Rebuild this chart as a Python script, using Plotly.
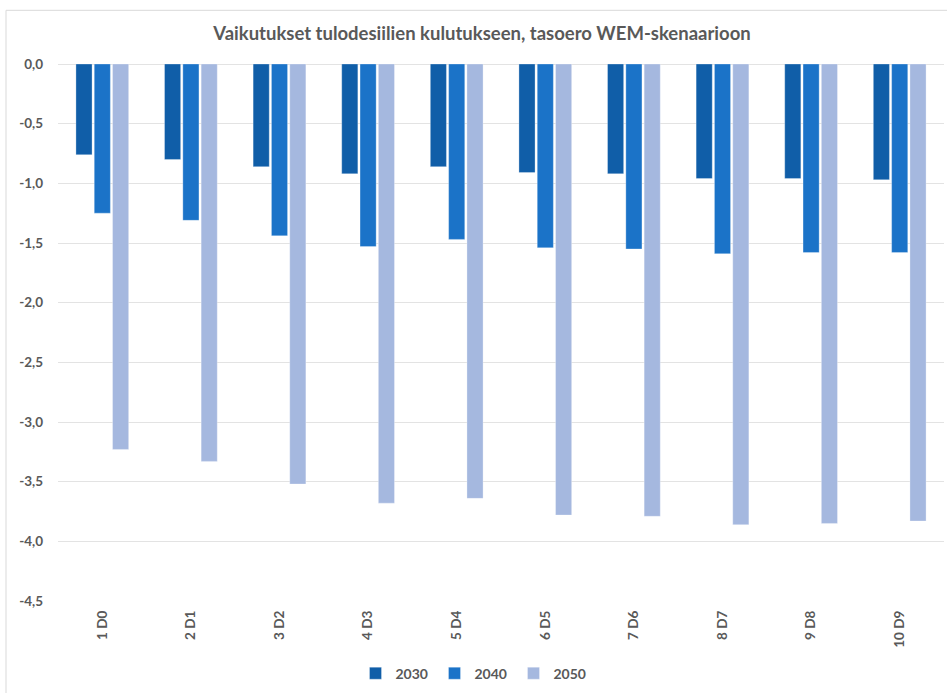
import plotly.graph_objects as go

categories = ["1 D0", "2 D1", "3 D2", "4 D3", "5 D4", "6 D5", "7 D6", "8 D7", "9 D8", "10 D9"]
v2030 = [-0.76, -0.80, -0.86, -0.92, -0.86, -0.91, -0.92, -0.96, -0.96, -0.97]
v2040 = [-1.25, -1.31, -1.44, -1.53, -1.47, -1.54, -1.55, -1.59, -1.58, -1.58]
v2050 = [-3.23, -3.33, -3.52, -3.68, -3.64, -3.78, -3.79, -3.86, -3.85, -3.83]
series_names = ["2030", "2040", "2050"]
colors = ["#105ea8", "#1b73c8", "#a5b8df"]
title = "Vaikutukset tulodesiilien kulutukseen, tasoero WEM-skenaarioon"
yticks = [0, -0.5, -1.0, -1.5, -2.0, -2.5, -3.0, -3.5, -4.0, -4.5]
yticklabels = ["0,0", "-0,5", "-1,0", "-1,5", "-2,0", "-2,5", "-3,0", "-3,5", "-4,0", "-4,5"]

FONT = "Lato"
GRAY = "#595959"

fig = go.Figure()
for name, vals, col in zip(series_names, [v2030, v2040, v2050], colors):
    fig.add_trace(go.Bar(
        x=categories, y=vals, name=name,
        marker=dict(color=col, line=dict(width=0.6, color="rgba(255,255,255,0.5)")),
    ))

W, H = 947, 693
L, R, T, B = 58, 3, 64, 89
pw = W - L - R
ph = H - T - B

def px_x(x):
    return (x - L) / pw

def px_y(y):
    return (H - B - y) / ph

fig.update_layout(
    width=W, height=H,
    margin=dict(l=L, r=R, t=T, b=B),
    paper_bgcolor="white", plot_bgcolor="white",
    barmode="group", bargap=0.38, bargroupgap=0.12,
    font=dict(family=FONT, color=GRAY, size=13),
    title=dict(text="<b>" + title + "</b>", x=px_x(482), xref="paper", xanchor="center",
               y=1 - 34 / H, yref="container", yanchor="middle",
               font=dict(size=18.5, color=GRAY, family=FONT)),
    legend=dict(orientation="h", x=px_x(474), xanchor="center", y=px_y(677), yanchor="middle",
                font=dict(size=14, color=GRAY, family=FONT, weight="bold"),
                itemwidth=30, traceorder="normal", entrywidth=34),
    xaxis=dict(tickangle=-90, showgrid=False, showline=False, ticks="",
               tickfont=dict(size=13.5, color=GRAY, family=FONT, weight="bold"),
               ticklabelstandoff=6),
    yaxis=dict(range=[-4.5, 0], tickvals=yticks, ticktext=yticklabels,
               showgrid=True, gridcolor="#e3e3e3", gridwidth=1,
               zeroline=True, zerolinecolor="#e3e3e3", zerolinewidth=1,
               showline=False, ticks="",
               tickfont=dict(size=13.5, color=GRAY, family=FONT, weight="bold"),
               ticklabelstandoff=14),
    shapes=[dict(type="rect", xref="paper", yref="paper",
                 x0=px_x(6), x1=px_x(960), y0=px_y(705), y1=px_y(10),
                 line=dict(color="#d9d9d9", width=1), fillcolor="rgba(0,0,0,0)", layer="below")],
)

fig.write_html("out.html")
